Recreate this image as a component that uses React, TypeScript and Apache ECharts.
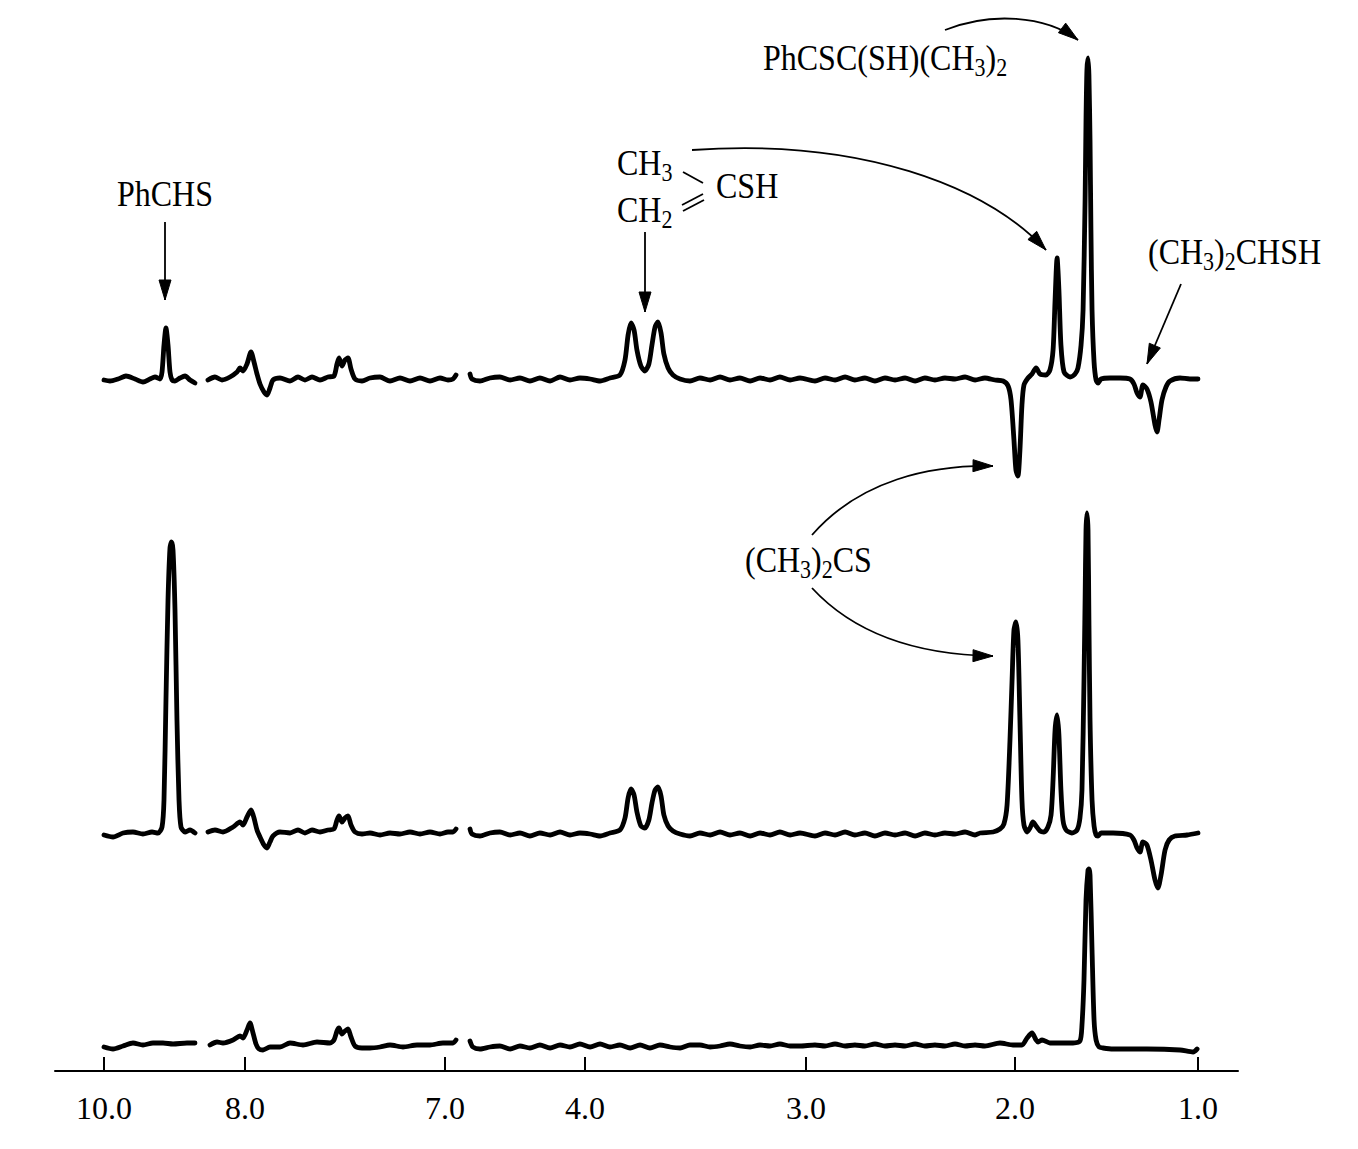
import React, { useEffect, useRef } from 'react';
import * as echarts from 'echarts';

// Tick labels of the (broken) chemical-shift axis, in ppm
const axisTicks = [10.0, 8.0, 7.0, 4.0, 3.0, 2.0, 1.0];
// Hand-drawn broken axis scale: [ppm, horizontal position]
const axisScale: [number, number][] = [
  [10.0, 104], [8.0, 245], [6.94, 457], [4.52, 470], [4.0, 585], [3.0, 806], [2.0, 1015], [1.0, 1198],
];

// Trace 1 (top)
const trace1A: [number, number][] = [
  [10.0, -1], [9.915, -2], [9.801, 0], [9.688, 3], [9.56, 0], [9.447, -3], [9.348, 0], [9.277, 2], [9.206, 0],
  [9.177, 7], [9.149, 34], [9.121, 51], [9.092, 34], [9.064, 7], [9.035, -1], [8.993, -2], [8.922, 1], [8.851, 3],
  [8.78, -1], [8.709, -4],
];
const trace1B: [number, number][] = [
  [8.525, -1], [8.426, 2], [8.326, -1], [8.213, 2], [8.113, 7], [8.071, 11], [8.028, 8], [7.99, 15], [7.97, 27],
  [7.955, 17], [7.94, 5], [7.925, -5], [7.905, -13], [7.89, -16], [7.875, -9], [7.86, -1], [7.825, 1], [7.775, -2],
  [7.735, 2], [7.7, -1], [7.665, 2], [7.625, -1], [7.585, 2], [7.555, 3], [7.54, 15], [7.53, 21], [7.515, 13],
  [7.5, 19], [7.485, 21], [7.47, 10], [7.45, 0], [7.415, -2], [7.375, 1], [7.325, 2], [7.275, -2], [7.225, 1],
  [7.175, -2], [7.125, 1], [7.075, -2], [7.025, 1], [6.985, -1], [6.96, 0], [6.945, 4],
];
const trace1C: [number, number][] = [
  [4.52, 5], [4.511, 0], [4.475, -2], [4.43, 1], [4.385, 2], [4.339, -1], [4.294, 1], [4.249, -2], [4.204, 1],
  [4.158, -2], [4.113, 2], [4.068, -1], [4.023, 1], [3.977, 0], [3.932, -2], [3.887, 1], [3.842, 4], [3.819, 19],
  [3.805, 44], [3.792, 56], [3.778, 49], [3.765, 29], [3.747, 13], [3.729, 8], [3.711, 15], [3.697, 34],
  [3.683, 52], [3.67, 57], [3.656, 46], [3.643, 25], [3.624, 11], [3.602, 4], [3.57, 0], [3.525, -2], [3.48, 1],
  [3.434, -1], [3.389, 2], [3.344, -1], [3.299, 1], [3.253, -2], [3.208, 1], [3.163, -1], [3.118, 2], [3.072, -1],
  [3.027, 1], [2.957, -2], [2.909, 1], [2.861, -1], [2.813, 2], [2.766, -1], [2.718, 1], [2.67, -2], [2.622, 1],
  [2.574, -1], [2.526, 1], [2.478, -2], [2.431, 1], [2.383, -1], [2.335, 1], [2.287, 0], [2.239, 2], [2.191, -1],
  [2.144, 1], [2.096, -1], [2.057, -2], [2.033, -7], [2.019, -21], [2.005, -61], [1.995, -91], [1.984, -97],
  [1.973, -71], [1.962, -26], [1.951, -6], [1.929, 1], [1.907, 5], [1.885, 11], [1.863, 5], [1.831, 4], [1.809, 9],
  [1.792, 29], [1.781, 79], [1.77, 121], [1.76, 89], [1.749, 34], [1.732, 7], [1.699, 2], [1.672, 5], [1.656, 11],
  [1.639, 34], [1.628, 69], [1.617, 179], [1.612, 259], [1.607, 309], [1.601, 321], [1.596, 304], [1.59, 239],
  [1.585, 149], [1.579, 69], [1.568, 17], [1.557, -1], [1.546, -4], [1.53, 0], [1.481, 1], [1.426, 1], [1.372, 0],
  [1.35, -5], [1.333, -14], [1.317, -18], [1.301, -6], [1.279, -10], [1.257, -23], [1.235, -46], [1.224, -53],
  [1.213, -41], [1.197, -21], [1.175, -8], [1.153, -2], [1.098, 1], [1.044, 0], [1.0, 0],
];

// Trace 2 (middle)
const trace2A: [number, number][] = [
  [10.0, -1], [9.872, -3], [9.73, 1], [9.589, 2], [9.447, 0], [9.319, 2], [9.234, 1], [9.177, 7], [9.149, 34],
  [9.121, 134], [9.092, 234], [9.064, 286], [9.043, 292], [9.021, 284], [8.993, 224], [8.965, 114], [8.936, 34],
  [8.908, 7], [8.851, 2], [8.78, 4], [8.709, 1],
];
const trace2B: [number, number][] = [
  [8.525, 2], [8.426, 4], [8.312, 2], [8.17, 7], [8.071, 12], [8.028, 9], [7.99, 17], [7.97, 24], [7.955, 16],
  [7.94, 4], [7.925, -3], [7.905, -11], [7.89, -14], [7.875, -8], [7.86, -2], [7.825, 2], [7.775, 1], [7.735, 4],
  [7.7, 1], [7.665, 4], [7.625, 2], [7.585, 4], [7.555, 5], [7.54, 14], [7.53, 18], [7.515, 12], [7.5, 16],
  [7.485, 18], [7.47, 9], [7.45, 2], [7.415, 0], [7.375, 1], [7.325, -1], [7.275, 1], [7.225, 0], [7.175, 2],
  [7.125, 0], [7.075, 2], [7.025, 0], [6.985, 2], [6.96, 2], [6.945, 5],
];
const trace2C: [number, number][] = [
  [4.52, 5], [4.511, 0], [4.475, -2], [4.43, 1], [4.385, 2], [4.339, -1], [4.294, 1], [4.249, -2], [4.204, 1],
  [4.158, -1], [4.113, 2], [4.068, -1], [4.023, 1], [3.977, 0], [3.932, -2], [3.887, 1], [3.842, 4], [3.819, 16],
  [3.805, 36], [3.792, 45], [3.778, 39], [3.765, 22], [3.747, 8], [3.729, 6], [3.711, 14], [3.697, 31],
  [3.683, 44], [3.67, 47], [3.656, 38], [3.643, 19], [3.624, 8], [3.602, 3], [3.57, 0], [3.525, -2], [3.48, 1],
  [3.434, -1], [3.389, 2], [3.344, -1], [3.299, 1], [3.253, -2], [3.208, 1], [3.163, -1], [3.118, 2], [3.072, -1],
  [3.027, 1], [2.957, -2], [2.909, 1], [2.861, -1], [2.813, 2], [2.766, -1], [2.718, 1], [2.67, -2], [2.622, 1],
  [2.574, -1], [2.526, 1], [2.478, -2], [2.431, 1], [2.383, -1], [2.335, 1], [2.287, 0], [2.239, 2], [2.191, -1],
  [2.167, 1], [2.105, 2], [2.072, 5], [2.053, 10], [2.038, 29], [2.024, 94], [2.014, 154], [2.005, 204],
  [1.995, 212], [1.984, 194], [1.973, 114], [1.962, 34], [1.951, 9], [1.934, 2], [1.918, 6], [1.902, 12],
  [1.885, 8], [1.863, 3], [1.842, 2], [1.82, 7], [1.803, 19], [1.792, 54], [1.781, 104], [1.77, 119], [1.76, 99],
  [1.749, 44], [1.738, 14], [1.721, 4], [1.689, 1], [1.661, 4], [1.645, 16], [1.634, 44], [1.623, 154],
  [1.617, 234], [1.612, 304], [1.607, 321], [1.601, 304], [1.596, 214], [1.59, 114], [1.579, 34], [1.568, 8],
  [1.557, -1], [1.546, -2], [1.53, 1], [1.464, 1], [1.372, -1], [1.35, -6], [1.333, -14], [1.317, -18],
  [1.301, -8], [1.279, -11], [1.257, -26], [1.235, -46], [1.219, -54], [1.202, -41], [1.18, -16], [1.158, -6],
  [1.126, -2], [1.06, -1], [1.0, 1],
];

// Trace 3 (bottom)
const trace3A: [number, number][] = [
  [10.0, -1], [9.872, -3], [9.73, 0], [9.589, 3], [9.447, 1], [9.305, 3], [9.163, 3], [9.021, 2], [8.823, 3],
  [8.709, 3],
];
const trace3B: [number, number][] = [
  [8.496, 1], [8.397, 4], [8.312, 3], [8.17, 6], [8.071, 10], [8.028, 8], [7.99, 16], [7.975, 23], [7.96, 13],
  [7.945, 2], [7.93, -3], [7.91, -4], [7.875, -1], [7.825, -1], [7.775, 3], [7.71, 1], [7.64, 4], [7.575, 3],
  [7.555, 6], [7.54, 15], [7.53, 18], [7.515, 12], [7.5, 15], [7.485, 17], [7.47, 9], [7.45, 0], [7.415, -2],
  [7.375, -2], [7.325, -1], [7.275, 1], [7.21, -1], [7.14, 1], [7.075, 1], [7.01, 3], [6.96, 3], [6.945, 6],
];
const trace3C: [number, number][] = [
  [4.52, 5], [4.507, -1], [4.475, -3], [4.43, -1], [4.385, 0], [4.339, -3], [4.294, 0], [4.249, -2], [4.204, 1],
  [4.158, -2], [4.113, 1], [4.068, -1], [4.023, 2], [3.977, -1], [3.932, 2], [3.887, -1], [3.842, 1], [3.796, -2],
  [3.751, 1], [3.706, -2], [3.661, 1], [3.615, -1], [3.57, -2], [3.525, 1], [3.48, 1], [3.434, -1], [3.389, 0],
  [3.344, 2], [3.299, 0], [3.253, -1], [3.208, 1], [3.163, 0], [3.118, 2], [3.072, 0], [3.027, 0], [2.957, 1],
  [2.909, 0], [2.861, 2], [2.813, 0], [2.766, 1], [2.718, 0], [2.67, 2], [2.622, 0], [2.574, 1], [2.526, 0],
  [2.478, 2], [2.431, 0], [2.383, 1], [2.335, 0], [2.287, 2], [2.239, 0], [2.191, 1], [2.144, 0], [2.072, 3],
  [2.01, 1], [1.962, 1], [1.934, 8], [1.907, 13], [1.885, 6], [1.874, 4], [1.852, 6], [1.809, 3], [1.754, 3],
  [1.683, 3], [1.645, 5], [1.634, 21], [1.623, 66], [1.612, 146], [1.601, 176], [1.596, 177], [1.59, 171],
  [1.579, 96], [1.568, 26], [1.557, 6], [1.541, -1], [1.519, -2], [1.464, -3], [1.279, -3], [1.098, -4],
  [1.027, -6], [1.005, -3],
];

const traces = [
  { segments: [trace1A, trace1B, trace1C], baseline: 692 },
  { segments: [trace2A, trace2B, trace2C], baseline: 237 },
  { segments: [trace3A, trace3B, trace3C], baseline: 25 },
];

const toPos = (ppm: number): number => {
  const a = axisScale;
  for (let i = 0; i < a.length - 1; i++) {
    const [p0, x0] = a[i];
    const [p1, x1] = a[i + 1];
    if (ppm <= p0 && ppm >= p1) return x0 + ((p0 - ppm) / (p0 - p1)) * (x1 - x0);
  }
  return ppm > a[0][0] ? a[0][1] : a[a.length - 1][1];
};

const FONT = '"Liberation Serif", "Times New Roman", serif';
const FS = 32;
const rich = {
  n: { fontSize: FS, fontFamily: FONT, lineHeight: 40, fill: '#000', color: '#000' },
  s: { fontSize: 22, fontFamily: FONT, lineHeight: 18, verticalAlign: 'bottom', fill: '#000', color: '#000' },
};

const label = (text: string, x: number, y: number) => ({
  type: 'text',
  x,
  y,
  scaleY: 1.1,
  style: {
    text,
    rich,
    fill: '#000',
    align: 'left',
    verticalAlign: 'middle',
    textAlign: 'left',
    textVerticalAlign: 'middle',
  },
});

const head = (tx: number, ty: number, fx: number, fy: number) => {
  const dx = tx - fx;
  const dy = ty - fy;
  const d = Math.hypot(dx, dy) || 1;
  const ux = dx / d;
  const uy = dy / d;
  const L = 20;
  const W = 6;
  const bx = tx - ux * L;
  const by = ty - uy * L;
  return {
    type: 'polygon',
    shape: { points: [[tx, ty], [bx - uy * W, by + ux * W], [bx + uy * W, by - ux * W]] },
    style: { fill: '#000', stroke: '#000', lineWidth: 1 },
  };
};

const straightArrow = (x1: number, y1: number, x2: number, y2: number) => [
  { type: 'line', shape: { x1, y1, x2, y2 }, style: { stroke: '#000', lineWidth: 1.8 } },
  head(x2, y2, x1, y1),
];

const curveArrow = (
  x1: number, y1: number, cpx1: number, cpy1: number, cpx2: number, cpy2: number, x2: number, y2: number,
) => [
  {
    type: 'bezierCurve',
    shape: { x1, y1, cpx1, cpy1, cpx2, cpy2, x2, y2 },
    style: { stroke: '#000', lineWidth: 1.8, fill: 'none' },
  },
  head(x2, y2, cpx2, cpy2),
];

export default function App() {
  const ref = useRef<HTMLDivElement>(null);
  useEffect(() => {
    if (!ref.current) return;
    const chart = echarts.init(ref.current, null, { renderer: 'svg' });
    const series: any[] = [];
    traces.forEach((t, ti) => {
      t.segments.forEach((seg, si) => {
        series.push({
          type: 'line',
          name: `trace${ti + 1}-${si + 1}`,
          data: seg.map(([p, v]) => [toPos(p), t.baseline + v]),
          symbol: 'none',
          smooth: 0.25,
          lineStyle: { color: '#000', width: 4.8, cap: 'round', join: 'round' },
          silent: true,
        });
      });
    });
    const tickPositions = axisTicks.map(toPos);
    chart.setOption({
      animation: false,
      backgroundColor: '#fff',
      grid: { left: 55, right: 120, top: 20, bottom: 78, containLabel: false },
      xAxis: {
        type: 'value',
        min: 55,
        max: 1238,
        splitLine: { show: false },
        axisLine: { show: true, onZero: false, lineStyle: { color: '#000', width: 2 } },
        axisTick: {
          show: true,
          inside: true,
          length: 14,
          customValues: tickPositions,
          lineStyle: { color: '#000', width: 2 },
        },
        axisLabel: {
          show: true,
          customValues: tickPositions,
          margin: 21,
          color: '#000',
          fontSize: 32,
          fontFamily: FONT,
          formatter: (v: number) => {
            const t = axisTicks.find((tk) => Math.abs(toPos(tk) - v) < 0.5);
            return t !== undefined ? t.toFixed(1) : '';
          },
        },
      },
      yAxis: { type: 'value', min: 0, max: 1051, show: false, splitLine: { show: false } },
      series,
      graphic: {
        elements: [
          label('{n|PhCHS}', 117, 194),
          ...straightArrow(165, 222, 165, 300),
          label('{n|CH}{s|3}', 617, 163),
          label('{n|CSH}', 716, 186),
          label('{n|CH}{s|2}', 617, 210),
          { type: 'line', shape: { x1: 683, y1: 172, x2: 703, y2: 183 }, style: { stroke: '#000', lineWidth: 1.8 } },
          { type: 'line', shape: { x1: 683, y1: 211, x2: 704, y2: 200 }, style: { stroke: '#000', lineWidth: 1.8 } },
          { type: 'line', shape: { x1: 682, y1: 205, x2: 703, y2: 194 }, style: { stroke: '#000', lineWidth: 1.8 } },
          ...straightArrow(645, 232, 645, 312),
          ...curveArrow(692, 150, 860, 138, 985, 185, 1046, 250),
          label('{n|PhCSC(SH)(CH}{s|3}{n|)}{s|2}', 763, 58),
          ...curveArrow(945, 30, 990, 12, 1045, 15, 1078, 40),
          label('{n|(CH}{s|3}{n|)}{s|2}{n|CHSH}', 1148, 252),
          ...straightArrow(1181, 284, 1147, 364),
          label('{n|(CH}{s|3}{n|)}{s|2}{n|CS}', 745, 560),
          ...curveArrow(812, 535, 860, 480, 930, 465, 993, 466),
          ...curveArrow(812, 588, 860, 640, 930, 655, 993, 656),
        ],
      },
    });
    return () => chart.dispose();
  }, []);
  return (
    <div
      ref={ref}
      style={{ position: 'absolute', left: 0, top: 0, width: 1358, height: 1149, background: '#fff' }}
    />
  );
}
